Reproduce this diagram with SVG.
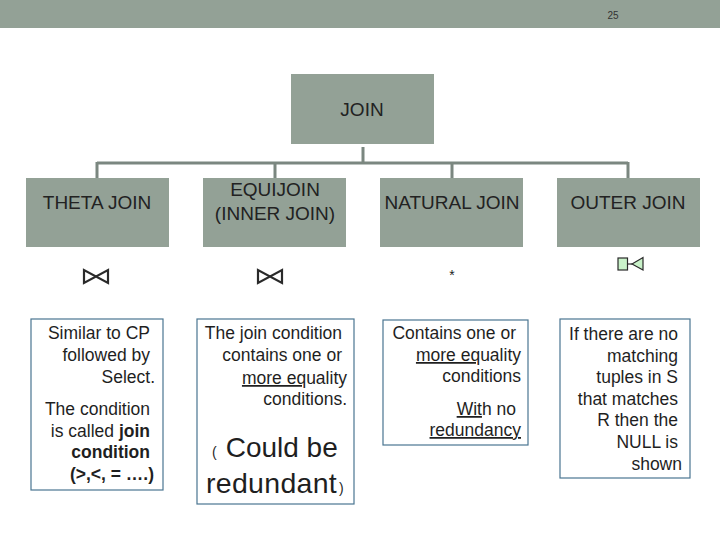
<svg xmlns="http://www.w3.org/2000/svg" width="720" height="540" viewBox="0 0 720 540">
<style>
.hdr{fill:#93a196}
.ttl{font-family:"Liberation Sans",Arial,sans-serif;font-size:19px;fill:#222;text-anchor:middle}
.tb{fill:#fff;stroke:#4a7591;stroke-width:1.2}
.bt{font-family:"Liberation Sans",Arial,sans-serif;font-size:17.5px;fill:#1f1f1f;text-anchor:end}
.conn{stroke:#7b8780;stroke-width:3;fill:none}
.sym{stroke:#2a2a2a;stroke-width:2.2;fill:none;stroke-linejoin:miter}
.u{text-decoration:underline}
</style>
<rect x="0" y="0" width="720" height="28" class="hdr"/>
<text x="613" y="19" font-family="Liberation Sans, Arial, sans-serif" font-size="10" fill="#333" text-anchor="middle">25</text>

<g id="connectors">
<path class="conn" d="M363 147 V163 M97 163 H628 M97 162 V178 M275 162 V178 M452 162 V178 M628 162 V178"/>
</g>

<g id="join"><rect x="291" y="74" width="143" height="70" class="hdr"/><text x="362" y="116" class="ttl">JOIN</text></g>
<g id="theta"><rect x="26" y="178" width="143" height="69" class="hdr"/><text x="97" y="209" class="ttl">THETA JOIN</text></g>
<g id="equi"><rect x="203" y="178" width="143" height="69" class="hdr"/><text x="275" y="196" class="ttl">EQUIJOIN</text><text x="275" y="220" class="ttl">(INNER JOIN)</text></g>
<g id="natural"><rect x="380" y="178" width="143" height="69" class="hdr"/><text x="452" y="209" class="ttl">NATURAL JOIN</text></g>
<g id="outer"><rect x="557" y="178" width="143" height="69" class="hdr"/><text x="628" y="209" class="ttl">OUTER JOIN</text></g>

<g id="sym-theta"><path class="sym" d="M84 270 V283 L108 270 V283 Z"/></g>
<g id="sym-equi"><path class="sym" d="M258 270 V283 L282 270 V283 Z"/></g>
<g id="sym-natural"><text x="452" y="280" font-family="Liberation Sans, Arial, sans-serif" font-size="14" fill="#222" text-anchor="middle">*</text></g>
<g id="sym-outer">
<rect x="618" y="258" width="9.5" height="12" fill="#c9f2c9" stroke="#2a2a2a" stroke-width="1.2"/>
<path d="M627.5 264 H632" stroke="#2a2a2a" stroke-width="1.2"/>
<path d="M632 264 L643 257.5 V270 Z" fill="#c9f2c9" stroke="#2a2a2a" stroke-width="1.2"/>
</g>

<g id="desc-theta">
<rect x="31" y="319" width="132" height="171" class="tb"/>
<text class="bt"><tspan x="150" y="339">Similar to CP</tspan><tspan x="150" y="361">followed by</tspan><tspan x="155" y="383">Select.</tspan><tspan x="150" y="415">The condition</tspan><tspan x="150" y="437">is called <tspan font-weight="bold">join</tspan></tspan><tspan x="150" y="458" font-weight="bold">condition</tspan><tspan x="154" y="480" font-weight="bold">(&gt;,&lt;, = ….)</tspan></text>
</g>

<g id="desc-equi">
<rect x="197" y="319" width="157" height="185" class="tb"/>
<text class="bt"><tspan x="342" y="339">The join condition</tspan><tspan x="342" y="361">contains one or</tspan><tspan x="347" y="384"><tspan class="u">more eq</tspan>uality</tspan><tspan x="347" y="405">conditions.</tspan></text>
<text font-family="Liberation Sans, Arial, sans-serif" fill="#1f1f1f" x="212" y="457"><tspan font-size="14">(</tspan><tspan font-size="28" dx="9">Could be</tspan></text>
<text font-family="Liberation Sans, Arial, sans-serif" fill="#1f1f1f" x="206" y="493"><tspan font-size="28.5" letter-spacing="0.3">redundant</tspan><tspan font-size="14" dx="2">)</tspan></text>
</g>

<g id="desc-natural">
<rect x="383" y="320" width="145" height="125" class="tb"/>
<text class="bt"><tspan x="516" y="339">Contains one or</tspan><tspan x="521" y="361"><tspan class="u">more eq</tspan>uality</tspan><tspan x="521" y="382">conditions</tspan><tspan x="516" y="415"><tspan class="u">Wit</tspan>h no</tspan><tspan x="521" y="436" class="u">redundancy</tspan></text>
</g>

<g id="desc-outer">
<rect x="560" y="319" width="130" height="159" class="tb"/>
<text class="bt"><tspan x="678" y="340">If there are no</tspan><tspan x="678" y="362">matching</tspan><tspan x="678" y="383">tuples in S</tspan><tspan x="678" y="405">that matches</tspan><tspan x="678" y="426">R then the</tspan><tspan x="678" y="448">NULL is</tspan><tspan x="682" y="470">shown</tspan></text>
</g>
</svg>
